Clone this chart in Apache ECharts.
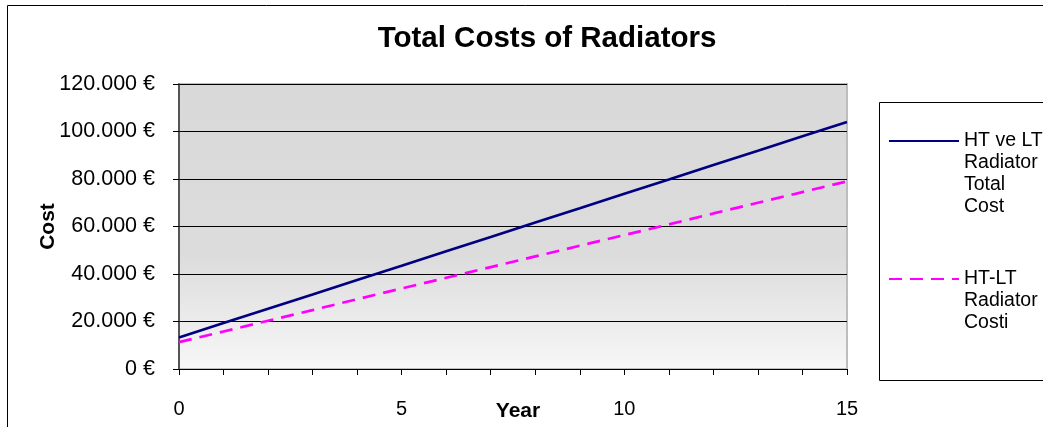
<!DOCTYPE html>
<html><head><meta charset="utf-8">
<script src="https://cdn.jsdelivr.net/npm/echarts@6/dist/echarts.min.js"></script>
<style>html,body{margin:0;padding:0;background:#fff}#c{width:1043px;height:427px}</style>
</head><body><div id="c"></div>
<script>
const years = [0,1,2,3,4,5,6,7,8,9,10,11,12,13,14,15];
const htLtTotal = [13300,19350,25400,31400,37500,43500,49600,55600,61700,67700,73800,79800,85900,91900,98000,104000];
const htLtCosti = [11300,15800,20300,24800,29400,33900,38400,42900,47400,51900,56400,60900,65500,70000,74500,79000];
const yTicks = [0,20000,40000,60000,80000,100000,120000];
const xLabels = [0,5,10,15];
const name1 = 'HT ve LT\nRadiator\nTotal\nCost';
const name2 = 'HT-LT\nRadiator\nCosti';
const FONT = 'Liberation Sans, Arial, sans-serif';

function fmtEuro(v){
  const s = String(Math.round(v)).replace(/\B(?=(\d{3})+(?!\d))/g,'.');
  return s + ' €';
}
function padTop(name){
  const n = name.split('\n').length;
  return '\n'.repeat(n-1) + name;
}

const legendCommon = {orient:'vertical', left:883, padding:5, itemWidth:70, itemHeight:14, itemGap:0,
  itemStyle:{opacity:0}, formatter:padTop,
  textStyle:{fontFamily:FONT,fontSize:19.5,lineHeight:22,color:'#000'}, selectedMode:false};

const chart = echarts.init(document.getElementById('c'));
chart.setOption({
  animation:false,
  backgroundColor:'#fff',
  textStyle:{fontFamily:FONT},
  title:{text:'Total Costs of Radiators', left:542, textAlign:'center', top:19,
    textStyle:{fontFamily:FONT, fontSize:29.5, fontWeight:'bold', color:'#000'}},
  graphic:[
    {type:'rect', shape:{x:7.5,y:5.5,width:1100,height:500}, style:{fill:'none',stroke:'#000',lineWidth:1}, silent:true, z:-10},
    {type:'rect', shape:{x:879.5,y:102.5,width:300,height:278}, style:{fill:'#fff',stroke:'#000',lineWidth:1}, silent:true, z:-5}
  ],
  legend:[
    Object.assign({data:[name1], top:141-77-5}, legendCommon),
    Object.assign({data:[name2], top:279-55-5}, legendCommon)
  ],
  grid:{left:179, top:84, right:196, bottom:58, outerBoundsMode:'none', containLabel:false, show:true, borderColor:'#bdbdbd', borderWidth:2,
    backgroundColor:{type:'linear',x:0,y:0,x2:0,y2:1,colorStops:[{offset:0,color:'#d9d9d9'},{offset:0.6,color:'#dcdcdc'},{offset:1,color:'#f7f7f7'}]}},
  xAxis:{type:'value', min:0, max:15, interval:1,
    name:'Year', nameLocation:'middle', nameGap:32, nameMoveOverlap:false,
    nameTextStyle:{fontFamily:FONT,fontSize:21,fontWeight:'bold',color:'#000',padding:[0,0,0,10]},
    axisLine:{show:true,onZero:false,lineStyle:{color:'#000',width:1}},
    axisTick:{show:true,inside:false,length:6,lineStyle:{color:'#000'}},
    axisLabel:{margin:30,fontFamily:FONT,fontSize:20,color:'#000',
      formatter:v=> xLabels.indexOf(v)>=0 ? String(v) : ''},
    splitLine:{show:false}},
  yAxis:{type:'value', min:yTicks[0], max:yTicks[yTicks.length-1], interval:20000,
    name:'Cost', nameLocation:'middle', nameGap:120, nameRotate:90, nameMoveOverlap:false,
    nameTextStyle:{fontFamily:FONT,fontSize:21,fontWeight:'bold',color:'#000'},
    axisLine:{show:true,lineStyle:{color:'#333',width:1.5}},
    axisTick:{show:true,inside:false,length:6,lineStyle:{color:'#000'}},
    axisLabel:{margin:24,fontFamily:FONT,fontSize:21.5,color:'#000',formatter:fmtEuro},
    splitLine:{show:true,lineStyle:{color:'#000',width:1}}},
  series:[
    {name:name1, type:'line', data:years.map((x,i)=>[x,htLtTotal[i]]), symbol:'none',
     lineStyle:{color:'#000080',width:2.7}, itemStyle:{color:'#000080'}},
    {name:name2, type:'line', data:years.map((x,i)=>[x,htLtCosti[i]]), symbol:'none',
     lineStyle:{color:'#ff00ff',width:2.7,type:[13,8]}, itemStyle:{color:'#ff00ff'}}
  ]
});
</script></body></html>
